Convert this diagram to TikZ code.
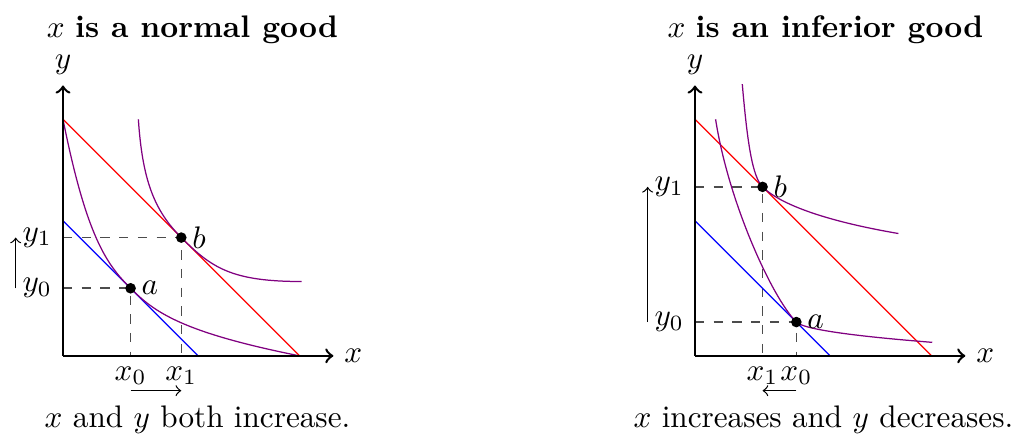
\documentclass[tikz,border=0pt]{standalone}
\begin{document}
\begin{tikzpicture}[x=0.381cm,y=0.381cm,
  axis/.style={thick,->},
  icurve/.style={violet},
  guide/.style={dashed,black!70,line width=0.5pt},
  dotpt/.style={circle,fill=black,inner sep=0pt,minimum size=3.4pt},
  shiftarrow/.style={->}]
\useasboundingbox (-1.864,-2.485) rectangle (28.17,10.53);
% ---------------- left panel ----------------
\begin{scope}
\coordinate (LO) at (0,0);
\coordinate (LX) at (8,0);
\coordinate (LY) at (0,8);
\coordinate (LR1) at (0,7); \coordinate (LR2) at (7,0);
\coordinate (LB1) at (0,4); \coordinate (LB2) at (4,0);
\coordinate (Lx0) at (2,0); \coordinate (Lx1) at (3.5,0);
\coordinate (Ly0) at (0,2); \coordinate (Ly1) at (0,3.5);
\coordinate (LA) at (2,2); \coordinate (LBp) at (3.5,3.5);
\coordinate (LC2s) at (2.23,7); \coordinate (LC2e) at (7.06,2.2);
\coordinate (Lvs) at (-1.4,2); \coordinate (Lve) at (-1.4,3.5);
\coordinate (Lhs) at (2,-1.03); \coordinate (Lhe) at (3.5,-1.03);
\draw[guide] (Ly0) -| (Lx0);
\draw[guide] (Ly1) -| (Lx1);
\draw[red] (LR1) -- (LR2);
\draw[blue] (LB1) -- (LB2);
\draw[icurve] (LR1) .. controls (0.7,3.5) and (1.3,2.7) .. (LA)
  .. controls (2.7,1.3) and (3.5,0.7) .. (LR2);
\draw[icurve] (LC2s) .. controls (2.35,5.2) and (2.7,4.3) .. (LBp)
  .. controls (4.4,2.6) and (5.0,2.2) .. (LC2e);
\draw[axis] (LO) -- (LX);
\draw[axis] (LO) -- (LY);
\node[right] (Lxl) at (LX) {$x$};
\node[above] (Lyl) at (LY) {$y$};
\node[dotpt] (Lad) at (LA) {};
\node[dotpt] (Lbd) at (LBp) {};
\node[right] (Lal) at (LA) {$a$};
\node[right] (Lbl) at (LBp) {$b$};
\node[left] (Ly0l) at (Ly0) {$y_0$};
\node[left] (Ly1l) at (Ly1) {$y_1$};
\node[below] (Lx0l) at (Lx0) {$x_0$};
\node[below] (Lx1l) at (Lx1) {$x_1$};
\draw[shiftarrow] (Lvs) -- (Lve);
\draw[shiftarrow] (Lhs) -- (Lhe);
\node[anchor=base] (Ltitle) at (3.83,9.42) {$x$ \textbf{is a normal good}};
\node[anchor=base] (Lcap) at (3.98,-2.12) {$x$ and $y$ both increase.};
\end{scope}
% ---------------- right panel ----------------
\begin{scope}[shift={(18.7,0)}]
\coordinate (RO) at (0,0);
\coordinate (RX) at (8,0);
\coordinate (RY) at (0,8);
\coordinate (RR1) at (0,7); \coordinate (RR2) at (7,0);
\coordinate (RB1) at (0,4); \coordinate (RB2) at (4,0);
\coordinate (Rx0) at (3,0); \coordinate (Rx1) at (2,0);
\coordinate (Ry0) at (0,1); \coordinate (Ry1) at (0,5);
\coordinate (RA) at (3,1); \coordinate (RBp) at (2,5);
\coordinate (RC1s) at (0.61,7); \coordinate (RC1e) at (7.02,0.4);
\coordinate (RC2s) at (1.4,8.04); \coordinate (RC2e) at (6.02,3.62);
\coordinate (Rvs) at (-1.4,1); \coordinate (Rve) at (-1.4,5);
\coordinate (Rhs) at (3,-1.03); \coordinate (Rhe) at (2,-1.03);
\draw[guide] (Ry0) -| (Rx0);
\draw[guide] (Ry1) -| (Rx1);
\draw[red] (RR1) -- (RR2);
\draw[blue] (RB1) -- (RB2);
\draw[icurve] (RC1s) .. controls (1.0,4.5) and (2.3,1.7) .. (RA)
  .. controls (3.2,0.8) and (4.5,0.6) .. (RC1e);
\draw[icurve] (RC2s) .. controls (1.55,6.3) and (1.7,5.3) .. (RBp)
  .. controls (2.5,4.5) and (3.8,4.0) .. (RC2e);
\draw[axis] (RO) -- (RX);
\draw[axis] (RO) -- (RY);
\node[right] (Rxl) at (RX) {$x$};
\node[above] (Ryl) at (RY) {$y$};
\node[dotpt] (Rad) at (RA) {};
\node[dotpt] (Rbd) at (RBp) {};
\node[right] (Ral) at (RA) {$a$};
\node[right] (Rbl) at (RBp) {$b$};
\node[left] (Ry0l) at (Ry0) {$y_0$};
\node[left] (Ry1l) at (Ry1) {$y_1$};
\node[below] (Rx0l) at (Rx0) {$x_0$};
\node[below] (Rx1l) at (Rx1) {$x_1$};
\draw[shiftarrow] (Rvs) -- (Rve);
\draw[shiftarrow] (Rhs) -- (Rhe);
\node[anchor=base] (Rtitle) at (3.86,9.42) {$x$ \textbf{is an inferior good}};
\node[anchor=base] (Rcap) at (3.8,-2.12) {$x$ increases and $y$ decreases.};
\end{scope}
\end{tikzpicture}
\end{document}
